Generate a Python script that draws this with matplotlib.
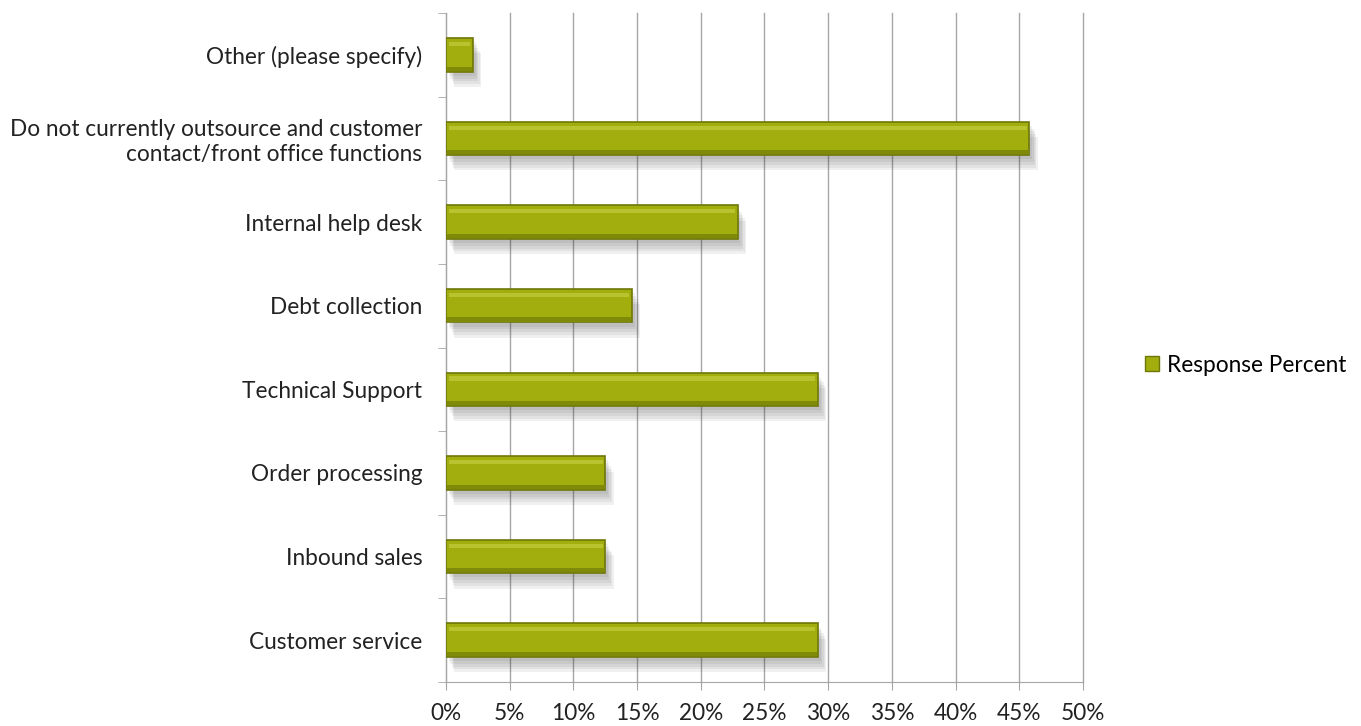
import matplotlib
matplotlib.use("Agg")
import matplotlib.pyplot as plt
import matplotlib.patheffects as pe
from matplotlib.patches import Patch

# survey categories, top to bottom as in the chart
categories = ["Other (please specify)",
              "Do not currently outsource and customer\ncontact/front office functions",
              "Internal help desk",
              "Debt collection",
              "Technical Support",
              "Order processing",
              "Inbound sales",
              "Customer service"]
response_pct = [2.1, 45.8, 22.9, 14.6, 29.2, 12.5, 12.5, 29.2]
x_ticks = [0, 5, 10, 15, 20, 25, 30, 35, 40, 45, 50]
series_name = "Response Percent"

bar_color = "#a2ad0e"
edge_color = "#6e7709"
grid_color = "#a6a6a6"
fs = 16.3

plt.rcParams['font.family'] = ['Lato', 'DejaVu Sans']

fig = plt.figure(figsize=(13.61, 7.26), dpi=100)
ax = fig.add_axes([0.3277, 0.0606, 0.468, 0.9214])

n = len(categories)
ypos = list(range(n - 1, -1, -1))

# soft shadow built from a few faint offset copies
shadow = [pe.SimplePatchShadow(offset=(dx, -dy), shadow_rgbFace="#333333", alpha=0.07)
          for dx, dy in [(2, 3), (3, 5), (4, 7), (5, 9), (6, 11)]]
ax.barh(ypos, response_pct, height=0.4, color=bar_color,
        edgecolor=edge_color, linewidth=1.2, zorder=3,
        path_effects=shadow + [pe.Normal()])
# bevel: light stripe near the top, darker band at the bottom
ax.barh([y + 0.13 for y in ypos], [v - 0.4 for v in response_pct], left=0.2, height=0.05,
        color="#b9c330", linewidth=0, zorder=4)
ax.barh([y - 0.165 for y in ypos], [v - 0.1 for v in response_pct], left=0.05, height=0.05,
        color="#7f8a08", linewidth=0, zorder=4)

ax.set_xlim(0, 50)
ax.set_ylim(-0.5, n - 0.5)
ax.set_xticks(x_ticks)
ax.set_xticklabels([f"{t}%" for t in x_ticks], fontsize=fs, color="#222222")
ax.set_yticks(ypos)
ax.set_yticklabels(categories, fontsize=fs, color="#222222", multialignment="right")
ax.tick_params(axis="y", length=0, pad=17)
ax.tick_params(axis="x", length=6, color=grid_color, pad=9)

# little tick marks between categories on the y axis
ax.set_yticks([y - 0.5 for y in range(n + 1)], minor=True)
ax.tick_params(axis="y", which="minor", length=6, color=grid_color)

ax.xaxis.grid(True, color=grid_color, linewidth=1)
for gl in ax.get_xgridlines():
    gl.set_clip_on(False)
ax.set_axisbelow(True)
for s in ["top", "right"]:
    ax.spines[s].set_visible(False)
ax.spines["left"].set_color(grid_color)
ax.spines["bottom"].set_color(grid_color)

handle = Patch(facecolor=bar_color, edgecolor=edge_color, label=series_name)
fig.legend(handles=[handle], loc="center left", bbox_to_anchor=(0.826, 0.497),
           frameon=False, fontsize=fs, handlelength=0.65, handleheight=0.65,
           handletextpad=0.35)

fig.savefig("out.png", dpi=100)
